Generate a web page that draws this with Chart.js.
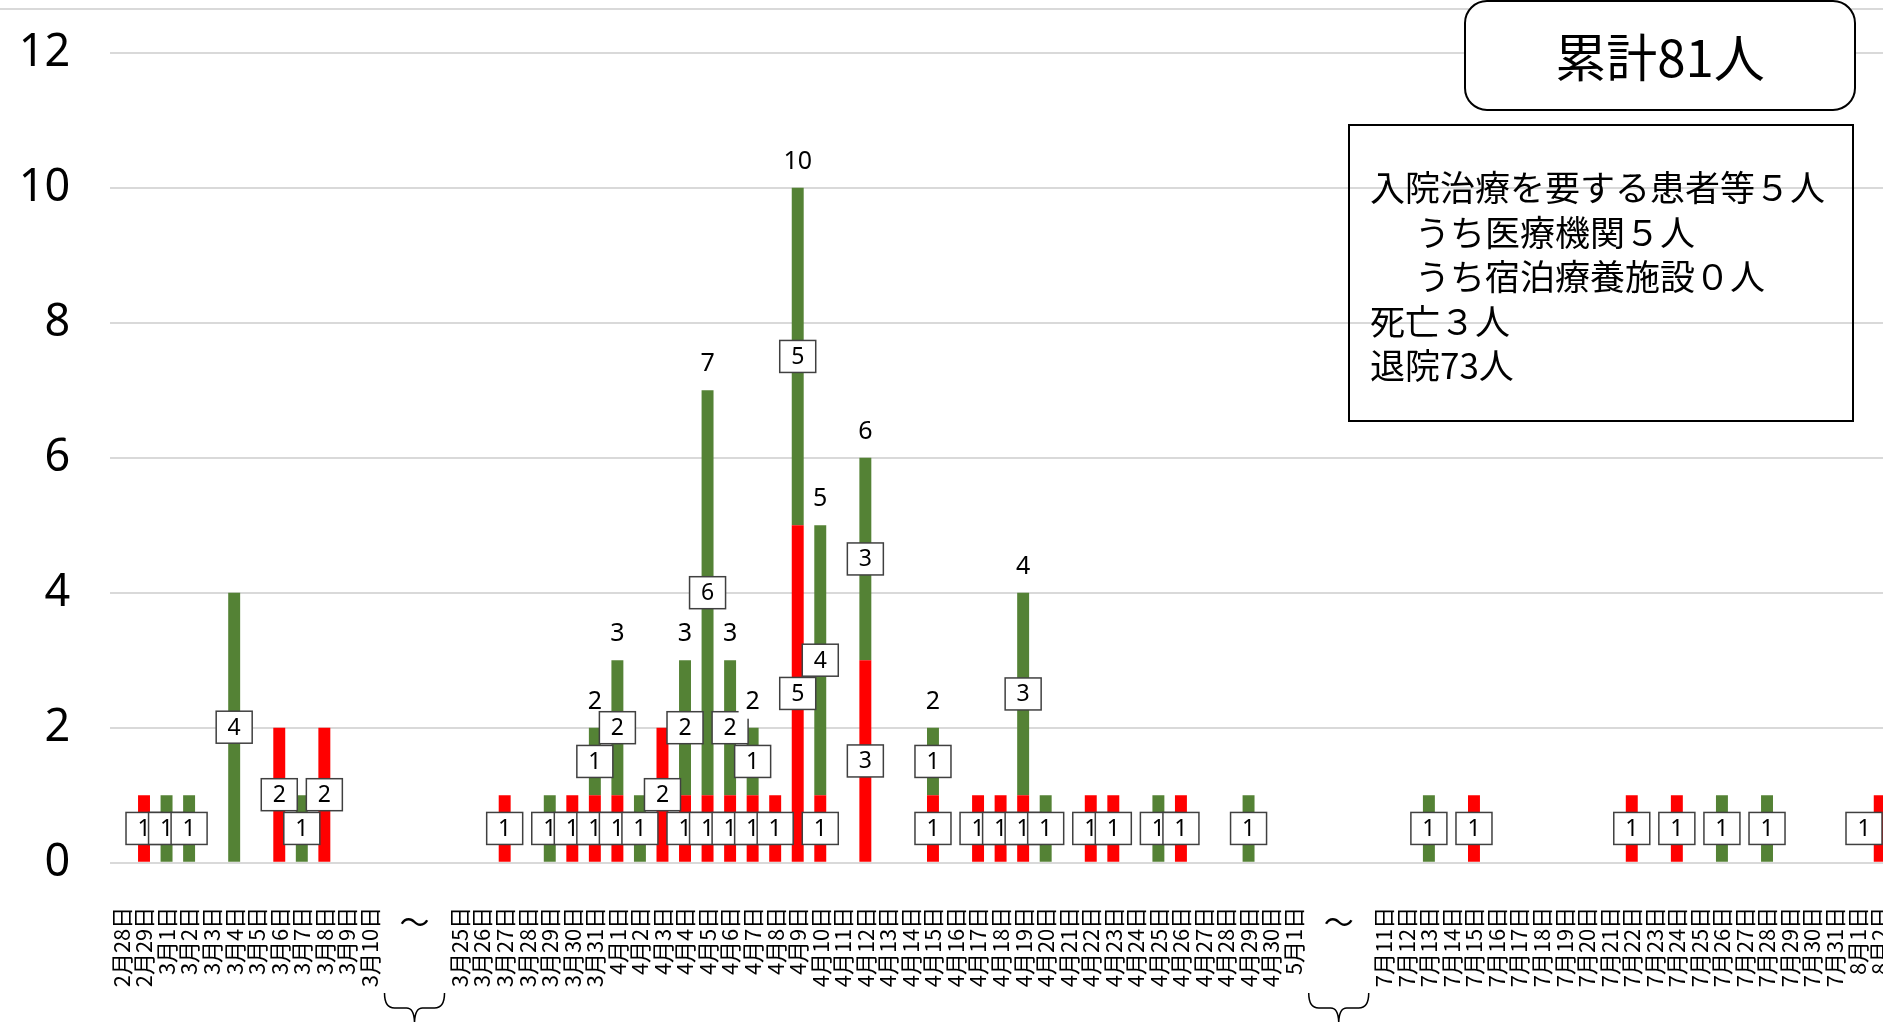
<!DOCTYPE html>
<html>
<head>
<meta charset="utf-8">
<script src="https://cdn.jsdelivr.net/npm/chart.js@4"></script>
<style>
    html, body { margin: 0; padding: 0; background: #ffffff; }
    #wrap { width: 1883px; height: 1022px; overflow: hidden; position: relative; }
    #casesChart { display: block; }
</style>
</head>
<body>
<div id="wrap"><canvas id="casesChart" width="1891" height="1022"></canvas></div>
<script>
// Dates (blank entries are the skipped periods)
const labels = [
    '2月28日', '2月29日', '3月1日', '3月2日', '3月3日', '3月4日', '3月5日', '3月6日', '3月7日', '3月8日', '3月9日', '3月10日',
    '', '', '',
    '3月25日', '3月26日', '3月27日', '3月28日', '3月29日', '3月30日', '3月31日',
    '4月1日', '4月2日', '4月3日', '4月4日', '4月5日', '4月6日', '4月7日', '4月8日', '4月9日', '4月10日',
    '4月11日', '4月12日', '4月13日', '4月14日', '4月15日', '4月16日', '4月17日', '4月18日', '4月19日', '4月20日',
    '4月21日', '4月22日', '4月23日', '4月24日', '4月25日', '4月26日', '4月27日', '4月28日', '4月29日', '4月30日',
    '5月1日',
    '', '', '',
    '7月11日', '7月12日', '7月13日', '7月14日', '7月15日', '7月16日', '7月17日', '7月18日', '7月19日', '7月20日',
    '7月21日', '7月22日', '7月23日', '7月24日', '7月25日', '7月26日', '7月27日', '7月28日', '7月29日', '7月30日',
    '7月31日', '8月1日', '8月2日',
]

// red segment (bottom)
const redCounts = [
    0, 1, 0, 0, 0, 0, 0, 2, 0, 2, 0, 0,
    0, 0, 0,
    0, 0, 1, 0, 0, 1, 1,
    1, 0, 2, 1, 1, 1, 1, 1, 5, 1,
    0, 3, 0, 0, 1, 0, 1, 1, 1, 0,
    0, 1, 1, 0, 0, 1, 0, 0, 0, 0,
    0,
    0, 0, 0,
    0, 0, 0, 0, 1, 0, 0, 0, 0, 0,
    0, 1, 0, 1, 0, 0, 0, 0, 0, 0,
    0, 0, 1,
]

// green segment (top)
const greenCounts = [
    0, 0, 1, 1, 0, 4, 0, 0, 1, 0, 0, 0,
    0, 0, 0,
    0, 0, 0, 0, 1, 0, 1,
    2, 1, 0, 2, 6, 2, 1, 0, 5, 4,
    0, 3, 0, 0, 1, 0, 0, 0, 3, 1,
    0, 0, 0, 0, 1, 0, 0, 0, 1, 0,
    0,
    0, 0, 0,
    0, 0, 1, 0, 0, 0, 0, 0, 0, 0,
    0, 0, 0, 0, 0, 1, 0, 1, 0, 0,
    0, 0, 0,
]

const yTicks = [0, 2, 4, 6, 8, 10, 12]
const gapIndexes = [13, 54]

const totalText = '累計81人'
const infoLines = [
    { text: '入院治療を要する患者等５人', indent: 0 },
    { text: 'うち医療機関５人', indent: 1 },
    { text: 'うち宿泊療養施設０人', indent: 1 },
    { text: '死亡３人', indent: 0 },
    { text: '退院73人', indent: 0 },
]

const RED = '#FF0000'
const GREEN = '#548235'
const GRID = '#D9D9D9'
const VIEW_WIDTH = 1883
const NUM_FONT = "'Noto Sans', 'DejaVu Sans', sans-serif"
const JP_FONT = "'Noto Sans CJK JP', 'Noto Sans', sans-serif"

// top frame line
const frameLinePlugin = {
    id: 'frameLine',
    beforeDraw(chart) {
        const ctx = chart.ctx
        ctx.save()
        ctx.strokeStyle = GRID
        ctx.lineWidth = 2
        ctx.beginPath()
        ctx.moveTo(0, 9)
        ctx.lineTo(chart.width, 9)
        ctx.stroke()
        ctx.restore()
    },
}

function drawBoxLabel(ctx, x, y, text, withBorder) {
    const w = withBorder ? 36 : 28
    const h = withBorder ? 32 : 36
    x = Math.min(x, VIEW_WIDTH - w / 2 - 1)
    ctx.fillStyle = '#ffffff'
    ctx.fillRect(x - w / 2, y - h / 2, w, h)
    if (withBorder) {
        ctx.strokeStyle = '#404040'
        ctx.lineWidth = 1.5
        ctx.strokeRect(x - w / 2, y - h / 2, w, h)
    }
    ctx.fillStyle = '#000000'
    ctx.font = (withBorder ? '23px ' : '25px ') + NUM_FONT
    ctx.fillText(text, x, y + 1)
}

// value boxes on each segment + totals above mixed bars
const valueLabelPlugin = {
    id: 'valueLabels',
    afterDatasetsDraw(chart) {
        const ctx = chart.ctx
        const redMeta = chart.getDatasetMeta(0)
        const greenMeta = chart.getDatasetMeta(1)
        ctx.save()
        ctx.textAlign = 'center'
        ctx.textBaseline = 'middle'
        for (let i = 0; i < labels.length; i++) {
            const r = redCounts[i]
            const g = greenCounts[i]
            if (r > 0) {
                const el = redMeta.data[i]
                drawBoxLabel(ctx, el.x, (el.y + el.base) / 2, String(r), true)
            }
            if (g > 0) {
                const el = greenMeta.data[i]
                drawBoxLabel(ctx, el.x, (el.y + el.base) / 2, String(g), true)
            }
            if (r > 0 && g > 0) {
                const el = greenMeta.data[i]
                drawBoxLabel(ctx, el.x, el.y - 27, String(r + g), false)
            }
        }
        ctx.restore()
    },
}

// tilde + braces for the skipped periods, and the two summary boxes
const annotationPlugin = {
    id: 'annotations',
    afterDraw(chart) {
        const ctx = chart.ctx
        const xScale = chart.scales.x
        ctx.save()

        gapIndexes.forEach((idx) => {
            const cx = xScale.getPixelForValue(idx)
            ctx.fillStyle = '#000000'
            ctx.font = '30px ' + JP_FONT
            ctx.textAlign = 'center'
            ctx.textBaseline = 'middle'
            ctx.fillText('～', cx, 922)

            // downward curly brace
            const half = 30
            const top = 993
            const mid = 1008
            ctx.strokeStyle = '#000000'
            ctx.lineWidth = 1.5
            ctx.beginPath()
            ctx.moveTo(cx - half, top)
            ctx.quadraticCurveTo(cx - half, mid, cx - half + 10, mid)
            ctx.lineTo(cx - 8, mid)
            ctx.quadraticCurveTo(cx, mid, cx, mid + 16)
            ctx.quadraticCurveTo(cx, mid, cx + 8, mid)
            ctx.lineTo(cx + half - 10, mid)
            ctx.quadraticCurveTo(cx + half, mid, cx + half, top)
            ctx.stroke()
        })

        // rounded total box
        const bx = 1465, by = 1, bw = 390, bh = 109, rad = 22
        ctx.beginPath()
        ctx.roundRect(bx, by, bw, bh, rad)
        ctx.fillStyle = '#ffffff'
        ctx.fill()
        ctx.strokeStyle = '#000000'
        ctx.lineWidth = 2
        ctx.stroke()
        ctx.fillStyle = '#000000'
        ctx.font = '51px ' + JP_FONT
        ctx.textAlign = 'center'
        ctx.textBaseline = 'middle'
        ctx.fillText(totalText, bx + bw / 2, 58)

        // breakdown box (no fill)
        ctx.strokeStyle = '#000000'
        ctx.lineWidth = 2
        ctx.strokeRect(1349, 125, 504, 296)
        ctx.font = '35px ' + JP_FONT
        ctx.textAlign = 'left'
        infoLines.forEach((line, k) => {
            ctx.fillText(line.text, 1370 + line.indent * 45, 188 + k * 44.5)
        })

        ctx.restore()
    },
}

const ctx = document.getElementById('casesChart').getContext('2d')

const casesChart = new Chart(ctx, {
    type: 'bar',
    data: {
        labels: labels,
        datasets: [
            {
                data: redCounts,
                backgroundColor: RED,
                barPercentage: 0.53,
                categoryPercentage: 1,
            },
            {
                data: greenCounts,
                backgroundColor: GREEN,
                barPercentage: 0.53,
                categoryPercentage: 1,
            },
        ],
    },
    options: {
        responsive: false,
        animation: false,
        layout: {
            padding: { top: 52.7, left: 0, right: 0, bottom: 0 },
        },
        plugins: {
            legend: { display: false },
            tooltip: { enabled: false },
        },
        scales: {
            x: {
                stacked: true,
                grid: { display: false },
                border: { display: false },
                ticks: {
                    autoSkip: false,
                    minRotation: 90,
                    maxRotation: 90,
                    padding: 36,
                    color: '#000000',
                    font: { family: JP_FONT, size: 22 },
                },
                afterFit(scale) {
                    scale.height = 159.3
                    scale.paddingLeft = 0
                    scale.paddingRight = 0
                },
            },
            y: {
                stacked: true,
                min: 0,
                max: 12,
                afterBuildTicks(scale) {
                    scale.ticks = yTicks.map((v) => ({ value: v }))
                },
                ticks: {
                    padding: 40,
                    color: '#000000',
                    font: { family: NUM_FONT, size: 45 },
                },
                grid: { color: GRID, lineWidth: 2, drawTicks: false },
                border: { display: false },
                afterFit(scale) {
                    scale.width = 110.2
                    scale.paddingTop = 0
                    scale.paddingBottom = 0
                },
            },
        },
    },
    plugins: [frameLinePlugin, valueLabelPlugin, annotationPlugin],
})
</script>
</body>
</html>
